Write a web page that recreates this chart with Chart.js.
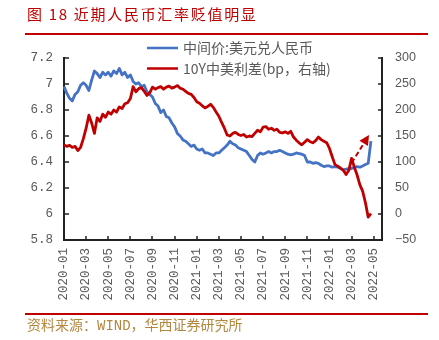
<!DOCTYPE html>
<html>
<head>
<meta charset="utf-8">
<script src="https://cdn.jsdelivr.net/npm/chart.js@4.4.1/dist/chart.umd.min.js"></script>
<style>
  html, body { margin: 0; padding: 0; background: #fff; }
  #wrap { position: relative; width: 439px; height: 340px; overflow: hidden; }
  #chart { position: absolute; left: 0; top: 0; }
  .title { position: absolute; left: 27px; top: 4px; font: 15px "Noto Sans CJK SC"; color: #c00000; letter-spacing: 1.7px; line-height: 20px; white-space: nowrap; }
  .rule { position: absolute; left: 25px; width: 403px; height: 2px; background: #c00000; }
  .source { position: absolute; left: 27px; top: 318px; font: 14px "Liberation Mono", "Noto Sans CJK SC"; color: #b4873f; line-height: 16px; white-space: nowrap; }
</style>
</head>
<body>
<div id="wrap">
  <canvas id="chart" width="439" height="340"></canvas>
  <div class="title">图 18 近期人民币汇率贬值明显</div>
  <div class="rule" style="top:33px"></div>
  <div class="rule" style="top:313px"></div>
  <div class="source">资料来源：WIND，华西证券研究所</div>
</div>
<script>
// months on the x axis, four weekly readings per month
const months = ['2020-01', '2020-02', '2020-03', '2020-04', '2020-05', '2020-06', '2020-07', '2020-08',
  '2020-09', '2020-10', '2020-11', '2020-12', '2021-01', '2021-02', '2021-03', '2021-04', '2021-05',
  '2021-06', '2021-07', '2021-08', '2021-09', '2021-10', '2021-11', '2021-12', '2022-01', '2022-02',
  '2022-03', '2022-04', '2022-05'];
const weeksPerMonth = 4;

const seriesNames = ['中间价:美元兑人民币', '10Y中美利差(bp，右轴)'];

// USD/CNY central parity (left axis)
const cnyMid = [
  6.98, 6.93, 6.89, 6.87, 6.92, 6.94, 6.99, 7.01,
  6.99, 6.95, 7.03, 7.10, 7.08, 7.05, 7.09, 7.07,
  7.09, 7.06, 7.10, 7.08, 7.12, 7.07, 7.09, 7.05,
  7.07, 7.02, 7.00, 7.01, 6.98, 6.99, 6.94, 6.92,
  6.90, 6.85, 6.83, 6.78, 6.80, 6.75, 6.74, 6.70,
  6.67, 6.62, 6.60, 6.57, 6.56, 6.54, 6.52, 6.53,
  6.50, 6.49, 6.50, 6.47, 6.47, 6.46, 6.45, 6.47,
  6.47, 6.49, 6.51, 6.53, 6.56, 6.54, 6.53, 6.51,
  6.50, 6.49, 6.48, 6.45, 6.42, 6.40, 6.45, 6.47,
  6.46, 6.47, 6.48, 6.47, 6.48, 6.48, 6.49, 6.48,
  6.47, 6.46, 6.455, 6.46, 6.47, 6.465, 6.46, 6.45,
  6.40, 6.40, 6.39, 6.395, 6.39, 6.375, 6.365, 6.37,
  6.37, 6.36, 6.365, 6.36, 6.35, 6.34, 6.345, 6.35,
  6.35, 6.36, 6.365, 6.36, 6.37, 6.38, 6.39, 6.56
];

// China-US 10Y yield spread in bp (right axis)
const spread = [
  133, 130, 132, 128, 130, 122, 128, 145,
  165, 190, 175, 155, 185, 178, 192, 186,
  196, 192, 200, 196, 206, 203, 212, 214,
  222, 245, 235, 241, 243, 236, 228, 233,
  244, 240, 243, 245, 240, 244, 246, 242,
  244, 247, 242, 240, 236, 232, 230, 224,
  216, 213, 208, 204, 207, 211, 205, 196,
  188, 176, 165, 152, 150, 155, 157, 153,
  151, 153, 148, 150, 149, 155, 161, 158,
  167, 168, 163, 165, 161, 163, 157, 156,
  158, 155, 159, 148, 142, 137, 133, 138,
  143, 139, 137, 141, 148, 143, 140, 137,
  126, 110, 95, 92, 88, 84, 76, 84,
  107, 90, 75, 56, 44, 22, -6, 1
];

// dashed arrow: [week index, spread bp]
const arrowFrom = [104, 98];
const arrowTo = [110.3, 152];

const weekLabels = [];
months.forEach(m => { for (let k = 0; k < weeksPerMonth; k++) weekLabels.push(m); });

const BLUE = '#4472c4';
const RED = '#c00000';
const GREY = '#595959';

const extras = {
  id: 'extras',
  afterDraw(chart) {
    const { ctx, chartArea: a, scales: { x, y, y1 } } = chart;
    ctx.save();

    // inward tick marks
    ctx.strokeStyle = '#222';
    ctx.lineWidth = 1.5;
    ctx.beginPath();
    x.ticks.forEach(t => {
      const px = Math.round(x.getPixelForValue(t.value));
      ctx.moveTo(px, a.bottom); ctx.lineTo(px, a.bottom - 4);
    });
    y.ticks.forEach(t => {
      const py = Math.round(y.getPixelForValue(t.value));
      ctx.moveTo(a.left, py); ctx.lineTo(a.left + 5, py);
    });
    y1.ticks.forEach(t => {
      const py = Math.round(y1.getPixelForValue(t.value));
      ctx.moveTo(a.right, py); ctx.lineTo(a.right - 4, py);
    });
    ctx.stroke();

    // dashed arrow
    const x0 = x.getPixelForValue(arrowFrom[0]), y0 = y1.getPixelForValue(arrowFrom[1]);
    const x1 = x.getPixelForValue(arrowTo[0]), yy1 = y1.getPixelForValue(arrowTo[1]);
    const ang = Math.atan2(yy1 - y0, x1 - x0);
    const head = 10;
    const bx = x1 - head * Math.cos(ang), by = yy1 - head * Math.sin(ang);
    ctx.strokeStyle = RED;
    ctx.fillStyle = RED;
    ctx.lineWidth = 2;
    ctx.setLineDash([5, 3]);
    ctx.beginPath();
    ctx.moveTo(x0, y0); ctx.lineTo(bx, by);
    ctx.stroke();
    ctx.setLineDash([]);
    ctx.beginPath();
    ctx.moveTo(x1, yy1);
    ctx.lineTo(bx + 5 * Math.sin(ang), by - 5 * Math.cos(ang));
    ctx.lineTo(bx - 5 * Math.sin(ang), by + 5 * Math.cos(ang));
    ctx.closePath();
    ctx.fill();

    // legend
    ctx.font = '14px "Noto Sans CJK SC"';
    ctx.textBaseline = 'middle';
    ctx.textAlign = 'left';
    chart.data.datasets.forEach((ds, i) => {
      const ly = 48 + i * 20.5;
      ctx.strokeStyle = ds.borderColor;
      ctx.lineWidth = 2.5;
      ctx.beginPath();
      ctx.moveTo(147, ly); ctx.lineTo(178, ly);
      ctx.stroke();
      ctx.fillStyle = GREY;
      ctx.fillText(ds.label, 183, ly);
    });
    ctx.restore();
  }
};

new Chart(document.getElementById('chart'), {
  type: 'line',
  data: {
    labels: weekLabels,
    datasets: [
      { label: seriesNames[0], data: cnyMid, yAxisID: 'y', borderColor: BLUE, borderWidth: 2.8, order: 2 },
      { label: seriesNames[1], data: spread, yAxisID: 'y1', borderColor: RED, borderWidth: 2.8, order: 1 }
    ]
  },
  options: {
    responsive: false,
    animation: false,
    layout: { padding: { top: 58, left: 0, right: 0, bottom: 0 } },
    elements: { point: { radius: 0 }, line: { tension: 0, borderJoinStyle: 'round' } },
    plugins: { legend: { display: false }, tooltip: { enabled: false } },
    scales: {
      x: {
        offset: false,
        grid: { display: false, drawTicks: false },
        border: { display: true, color: '#222', width: 2 },
        afterBuildTicks: s => { s.ticks = s.ticks.filter(t => t.value % 8 === 0); },
        afterFit: s => { s.height = 100; },
        ticks: {
          autoSkip: false, minRotation: 90, maxRotation: 90, padding: 8,
          color: GREY, font: { family: 'Liberation Mono', size: 12.5 },
          callback: v => weekLabels[v]
        }
      },
      y: {
        position: 'left', min: 5.8, max: 7.2,
        grid: { display: false, drawTicks: false },
        border: { display: true, color: '#222', width: 2 },
        afterFit: s => { s.width = 64; },
        ticks: {
          stepSize: 0.2, padding: 11, color: GREY,
          font: { family: 'Liberation Mono', size: 12.5 },
          callback: v => String(Math.round(v * 10) / 10)
        }
      },
      y1: {
        position: 'right', min: -50, max: 300,
        grid: { display: false, drawTicks: false },
        border: { display: true, color: '#222', width: 2 },
        afterFit: s => { s.width = 57; },
        ticks: {
          stepSize: 50, padding: 13, color: GREY,
          font: { family: 'Liberation Sans', size: 12.5 },
          callback: v => (v < 0 ? '\u2212' + Math.abs(v) : String(v))
        }
      }
    }
  },
  plugins: [extras]
});
</script>
</body>
</html>
